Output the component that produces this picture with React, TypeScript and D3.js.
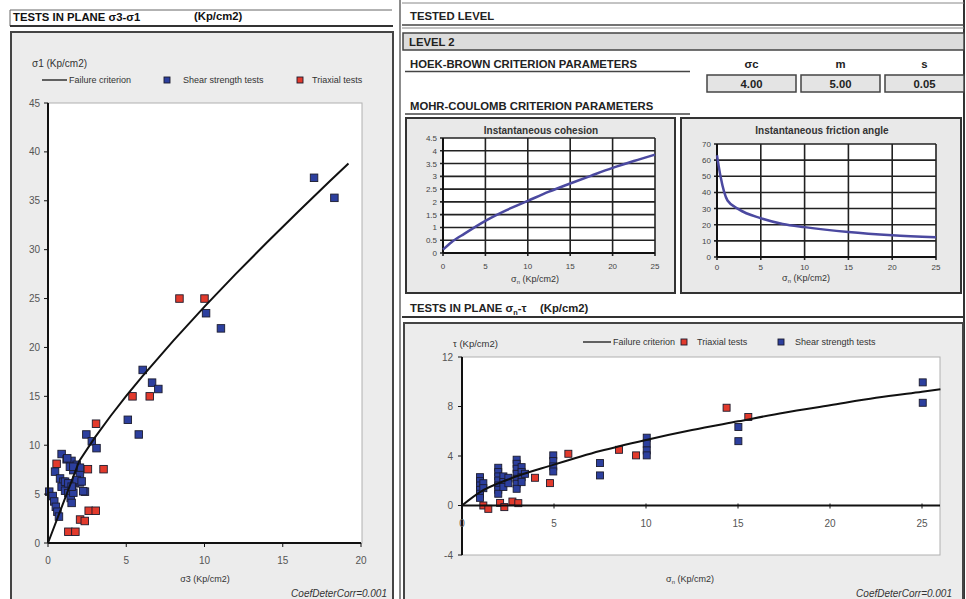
import React from 'react';
import * as d3 from 'd3';

const FONT = '"Liberation Sans", Arial, Helvetica, sans-serif';
const BLUE = '#2c3f9e';
const RED = '#e23a2c';
const CURVE = '#4b49a0';

// ---- Left chart (plane sigma3-sigma1) ----
const leftXTicks = [0, 5, 10, 15, 20];
const leftYTicks = [0, 5, 10, 15, 20, 25, 30, 35, 40, 45];
const failureSigma3 = [0, 2, 3, 4, 5, 6, 8, 10, 12, 14, 16, 18, 19.2];
const failureSigma1 = [0, 8.39, 10.8, 12.99, 15.04, 16.99, 20.68, 24.17, 27.52, 30.76, 33.91, 36.99, 38.82];
const shearTestsS3S1: [number, number][] = [
  [0.08, 5.25], [0.3, 4.8], [0.4, 4.25], [0.5, 3.7], [0.6, 3.2], [0.7, 2.7], [0.45, 7.3],
  [0.87, 9.1], [1.19, 8.56], [1.5, 8.4], [1.83, 8.0], [2.04, 7.7], [1.4, 7.8], [1.62, 7.45],
  [2.04, 6.95], [0.77, 6.6], [0.98, 6.27], [1.3, 5.93], [1.51, 5.6], [0.87, 5.76], [1.09, 5.35],
  [1.3, 5.1], [1.45, 4.6], [1.51, 4.1], [1.72, 6.1], [2.04, 6.2], [2.36, 5.25], [1.62, 5.15],
  [1.23, 8.66], [1.62, 7.8], [1.83, 6.44], [2.15, 6.3], [1.09, 6.27], [2.25, 5.3], [1.3, 6.1],
  [1.51, 5.76], [2.45, 11.1], [2.8, 10.4], [3.1, 9.7], [5.1, 12.6], [5.8, 11.1], [6.05, 17.7],
  [6.65, 16.4], [7.05, 15.75], [10.1, 23.5], [11.05, 21.95], [17.0, 37.35], [18.3, 35.3],
];
const triaxialTestsS3S1: [number, number][] = [
  [0.55, 8.1], [2.55, 7.55], [3.55, 7.55], [2.6, 3.3], [3.05, 3.3], [2.05, 2.4], [2.35, 2.25],
  [1.3, 1.15], [1.75, 1.15], [3.07, 12.2], [5.4, 15], [6.5, 15], [8.4, 25], [10, 25],
];

// ---- Hoek-Brown parameters ----
const hbHeaders = ['σc', 'm', 's'];
const hbValues = ['4.00', '5.00', '0.05'];

// ---- Instantaneous cohesion ----
const cohXTicks = [0, 5, 10, 15, 20, 25];
const cohYTicks = [0, 0.5, 1, 1.5, 2, 2.5, 3, 3.5, 4, 4.5];
const cohSigmaN = [0, 1, 2.5, 5, 7.5, 10, 12.5, 15, 17.5, 20, 22.5, 25];
const cohValues = [0.13, 0.42, 0.75, 1.26, 1.68, 2.04, 2.4, 2.72, 3.03, 3.33, 3.6, 3.85];

// ---- Instantaneous friction angle ----
const friXTicks = [0, 5, 10, 15, 20, 25];
const friYTicks = [0, 10, 20, 30, 40, 50, 60, 70];
const friSigmaN = [0, 0.4, 1.2, 2.5, 5, 7.5, 10, 15, 20, 25];
const friValues = [63, 50, 35, 29.5, 24, 20.5, 18.5, 15.5, 13.5, 12.2];

// ---- Plane sigma_n - tau ----
const tauXTicks = [0, 5, 10, 15, 20, 25];
const tauYTicks = [-4, 0, 4, 8, 12];
const failureSigmaN = [0, 1, 2.5, 5, 7.5, 10, 12.5, 15, 17.5, 20, 22.5, 25, 26];
const failureTau = [0, 1.1, 2.1, 3.3, 4.4, 5.3, 6.1, 6.8, 7.5, 8.1, 8.7, 9.2, 9.4];
const shearTestsTau: [number, number][] = [
  [0.98, 2.29], [0.98, 1.97], [0.98, 1.62], [0.98, 1.27], [0.98, 0.95], [0.98, 0.62], [1.16, 1.8], [1.16, 1.4],
  [1.97, 3.05], [1.97, 2.7], [1.97, 2.35], [1.97, 2.02], [1.97, 1.62], [1.97, 1.27], [1.97, 0.95],
  [2.25, 2.35], [2.25, 1.9], [2.25, 1.5], [2.52, 2.24], [2.52, 1.8],
  [2.97, 3.7], [2.97, 3.37], [2.97, 2.97], [2.97, 2.56], [2.97, 2.16], [2.97, 1.76], [2.97, 1.35],
  [3.24, 3.1], [3.24, 2.7], [3.24, 2.29], [3.24, 1.89], [3.42, 2.56],
  [4.96, 4.05], [4.96, 3.6], [4.96, 3.16], [4.96, 2.75], [7.5, 3.43], [7.5, 2.43],
  [10.04, 5.48], [10.04, 5.0], [10.04, 4.45], [10.04, 4.05], [15.02, 6.34], [15.02, 5.2],
  [25.04, 9.95], [25.04, 8.3],
];
const triaxialTestsTau: [number, number][] = [
  [1.16, 0], [1.43, -0.27], [2.07, 0.21], [2.3, -0.13], [2.74, 0.32], [3.06, 0.19], [3.97, 2.24],
  [4.78, 1.81], [5.78, 4.18], [8.53, 4.5], [9.46, 4.05], [14.38, 7.9], [15.56, 7.15],
];

const Sq = ({ x, y, fill, s = 7.5 }: { x: number; y: number; fill: string; s?: number }) => (
  <rect x={x - s / 2} y={y - s / 2} width={s} height={s} fill={fill} stroke="#1c1c2e" strokeWidth={0.9} />
);

const Sub = ({ main, sub, size, after = ' ' }: { main: string; sub: string; size: number; after?: string }) => (
  <>
    <tspan>{main}</tspan>
    <tspan fontSize={size * 0.65} dy={size * 0.25}>{sub}</tspan>
    <tspan dy={-size * 0.25}>{after}</tspan>
  </>
);

export default function App() {
  const x1 = d3.scaleLinear().domain([0, 20]).range([48, 361]);
  const y1 = d3.scaleLinear().domain([0, 45]).range([543, 103]);
  const line1 = d3.line<number>().x((_, i) => x1(failureSigma3[i])).y((d) => y1(d));

  const xc = d3.scaleLinear().domain([0, 25]).range([443, 655]);
  const yc = d3.scaleLinear().domain([0, 4.5]).range([253, 138]);
  const lineC = d3.line<number>().x((_, i) => xc(cohSigmaN[i])).y((d) => yc(d)).curve(d3.curveMonotoneX);

  const xf = d3.scaleLinear().domain([0, 25]).range([717, 936]);
  const yf = d3.scaleLinear().domain([0, 70]).range([257, 144]);
  const lineF = d3.line<number>().x((_, i) => xf(friSigmaN[i])).y((d) => yf(d)).curve(d3.curveMonotoneX);

  const x2 = d3.scaleLinear().domain([0, 25]).range([462, 922]);
  const y2 = d3.scaleLinear().domain([-4, 12]).range([555, 357]);
  const line2 = d3.line<number>().x((_, i) => x2(failureSigmaN[i])).y((d) => y2(d)).curve(d3.curveMonotoneX);

  const hbBoxes = [
    [707, 796],
    [801, 880],
    [885, 964],
  ];
  const HF = 11.3;

  return (
    <svg width={966} height={599} style={{ position: 'absolute', left: 0, top: 0, background: '#fff' }} fontFamily={FONT}>
      <rect x={0} y={0} width={966} height={599} fill="#fff" />

      {/* LEFT PANEL */}
      <line x1={10} y1={10} x2={392} y2={10} stroke="#666" strokeWidth={1} />
      <line x1={10} y1={10} x2={10} y2={26} stroke="#666" strokeWidth={1} />
      <text x={13} y={21} fontSize={HF} fontWeight="bold" fill="#111">TESTS IN PLANE σ3-σ1</text>
      <text x={194} y={20} fontSize={HF} fontWeight="bold" fill="#111">(Kp/cm2)</text>
      <line x1={10} y1={26} x2={393} y2={26} stroke="#333" strokeWidth={2} />

      <rect x={11} y={32} width={382} height={580} fill="#ececec" stroke="#444" strokeWidth={2} />
      <text x={32} y={67} fontSize={10} fill="#333">σ1  (Kp/cm2)</text>
      <line x1={42} y1={80} x2={67} y2={80} stroke="#333" strokeWidth={1.5} />
      <text x={69} y={83} fontSize={9} fill="#333">Failure criterion</text>
      <Sq x={167} y={80} fill={BLUE} s={6} />
      <text x={183} y={83} fontSize={9} fill="#333">Shear strength tests</text>
      <Sq x={300} y={80} fill={RED} s={6} />
      <text x={312} y={83} fontSize={9} fill="#333">Triaxial tests</text>

      <rect x={x1(0)} y={y1(45)} width={x1(20) - x1(0) + 1} height={y1(0) - y1(45)} fill="#fff" stroke="#b0b0b0" strokeWidth={1} />
      {shearTestsS3S1.map(([a, b], i) => (
        <Sq key={'ls' + i} x={x1(a)} y={y1(b)} fill={BLUE} />
      ))}
      {triaxialTestsS3S1.map(([a, b], i) => (
        <Sq key={'lt' + i} x={x1(a)} y={y1(b)} fill={RED} />
      ))}
      <path d={line1(failureSigma1) || ''} fill="none" stroke="#111" strokeWidth={2} />
      <line x1={x1(0)} y1={y1(45)} x2={x1(0)} y2={y1(0)} stroke="#111" strokeWidth={2} />
      <line x1={x1(0)} y1={y1(0)} x2={x1(20)} y2={y1(0)} stroke="#111" strokeWidth={2} />
      {leftYTicks.map((t) => (
        <g key={'ly' + t}>
          <line x1={x1(0) - 4} x2={x1(0)} y1={y1(t)} y2={y1(t)} stroke="#111" strokeWidth={1} />
          <text x={x1(0) - 8} y={y1(t) + 3.5} fontSize={10} fill="#555" textAnchor="end">{t}</text>
        </g>
      ))}
      {leftXTicks.map((t) => (
        <g key={'lx' + t}>
          <line x1={x1(t)} x2={x1(t)} y1={y1(0)} y2={y1(0) + 4} stroke="#111" strokeWidth={1} />
          <text x={x1(t)} y={564} fontSize={10} fill="#555" textAnchor="middle">{t}</text>
        </g>
      ))}
      <text x={205} y={582} fontSize={9} fill="#333" textAnchor="middle">σ3  (Kp/cm2)</text>
      <text x={387} y={597} fontSize={10} fill="#333" fontStyle="italic" textAnchor="end">CoefDeterCorr=0.001</text>

      {/* RIGHT HEADER */}
      <line x1={400} y1={0} x2={400} y2={599} stroke="#666" strokeWidth={1.5} />
      <line x1={964} y1={0} x2={964} y2={599} stroke="#333" strokeWidth={2} />
      <line x1={402} y1={3} x2={964} y2={3} stroke="#888" strokeWidth={1} />
      <text x={410} y={20} fontSize={HF} fontWeight="bold" fill="#222">TESTED LEVEL</text>
      <line x1={402} y1={25} x2={964} y2={25} stroke="#444" strokeWidth={1.5} />
      <line x1={402} y1={28} x2={964} y2={28} stroke="#888" strokeWidth={1} />
      <rect x={403} y={33} width={561} height={17} fill="#dcdcdc" stroke="#444" strokeWidth={1.5} />
      <text x={409} y={46} fontSize={HF} fontWeight="bold" fill="#222">LEVEL 2</text>
      <text x={410} y={68} fontSize={HF} fontWeight="bold" fill="#222">HOEK-BROWN CRITERION PARAMETERS</text>
      <line x1={405} y1={71.5} x2={690} y2={71.5} stroke="#444" strokeWidth={1.5} />
      {hbHeaders.map((h, i) => (
        <text key={'hh' + i} x={(hbBoxes[i][0] + hbBoxes[i][1]) / 2} y={68} fontSize={HF} fontWeight="bold" fill="#222" textAnchor="middle">{h}</text>
      ))}
      {hbValues.map((v, i) => (
        <g key={'hv' + i}>
          <rect x={hbBoxes[i][0]} y={75} width={hbBoxes[i][1] - hbBoxes[i][0]} height={17} fill="#e4e4e4" stroke="#444" strokeWidth={1.5} />
          <text x={(hbBoxes[i][0] + hbBoxes[i][1]) / 2} y={88} fontSize={HF} fontWeight="bold" fill="#222" textAnchor="middle">{v}</text>
        </g>
      ))}
      <text x={410} y={110} fontSize={HF} fontWeight="bold" fill="#222">MOHR-COULOMB CRITERION PARAMETERS</text>
      <line x1={405} y1={114} x2={690} y2={114} stroke="#444" strokeWidth={1.5} />

      {/* COHESION */}
      <rect x={406} y={118} width={269} height={175} fill="#e9e9e9" stroke="#333" strokeWidth={2} />
      <text x={541} y={134} fontSize={10} fontWeight="bold" fill="#333" textAnchor="middle">Instantaneous cohesion</text>
      <rect x={xc(0)} y={yc(4.5)} width={xc(25) - xc(0)} height={yc(0) - yc(4.5)} fill="#fff" />
      {cohYTicks.map((t) => (
        <g key={'cy' + t}>
          <line x1={xc(0) - 3} x2={xc(25)} y1={yc(t)} y2={yc(t)} stroke="#222" strokeWidth={1.6} />
          <text x={xc(0) - 6} y={yc(t) + 3} fontSize={8} fill="#444" textAnchor="end">{t}</text>
        </g>
      ))}
      {cohXTicks.map((t) => (
        <g key={'cx' + t}>
          <line x1={xc(t)} x2={xc(t)} y1={yc(4.5)} y2={yc(0) + 3} stroke="#222" strokeWidth={1.6} />
          <text x={xc(t)} y={269} fontSize={8} fill="#444" textAnchor="middle">{t}</text>
        </g>
      ))}
      <line x1={xc(0)} x2={xc(25)} y1={yc(0)} y2={yc(0)} stroke="#111" strokeWidth={2} />
      <line x1={xc(0)} x2={xc(0)} y1={yc(4.5)} y2={yc(0)} stroke="#111" strokeWidth={2} />
      <path d={lineC(cohValues) || ''} fill="none" stroke={CURVE} strokeWidth={2.5} />
      <text x={535} y={282} fontSize={9} fill="#333" textAnchor="middle">
        <Sub main="σ" sub="n" size={9} after="  " />(Kp/cm2)
      </text>

      {/* FRICTION */}
      <rect x={681} y={118} width={280} height={175} fill="#e9e9e9" stroke="#333" strokeWidth={2} />
      <text x={822} y={134} fontSize={10} fontWeight="bold" fill="#333" textAnchor="middle">Instantaneous friction angle</text>
      <rect x={xf(0)} y={yf(70)} width={xf(25) - xf(0)} height={yf(0) - yf(70)} fill="#fff" />
      {friYTicks.map((t) => (
        <g key={'fy' + t}>
          <line x1={xf(0) - 3} x2={xf(25)} y1={yf(t)} y2={yf(t)} stroke="#222" strokeWidth={1.6} />
          <text x={xf(0) - 6} y={yf(t) + 3} fontSize={8} fill="#444" textAnchor="end">{t}</text>
        </g>
      ))}
      {friXTicks.map((t) => (
        <g key={'fx' + t}>
          <line x1={xf(t)} x2={xf(t)} y1={yf(70)} y2={yf(0) + 3} stroke="#222" strokeWidth={1.6} />
          <text x={xf(t)} y={270} fontSize={8} fill="#444" textAnchor="middle">{t}</text>
        </g>
      ))}
      <line x1={xf(0)} x2={xf(25)} y1={yf(0)} y2={yf(0)} stroke="#111" strokeWidth={2} />
      <line x1={xf(0)} x2={xf(0)} y1={yf(70)} y2={yf(0)} stroke="#111" strokeWidth={2} />
      <path d={lineF(friValues) || ''} fill="none" stroke={CURVE} strokeWidth={2.5} />
      <text x={806} y={281} fontSize={9} fill="#333" textAnchor="middle">
        <Sub main="σ" sub="n" size={9} after="  " />(Kp/cm2)
      </text>

      {/* TAU PLANE */}
      <text x={410} y={312} fontSize={HF} fontWeight="bold" fill="#222">
        TESTS IN PLANE <Sub main="σ" sub="n" size={HF} after="-τ" />
      </text>
      <text x={540} y={312} fontSize={HF} fontWeight="bold" fill="#222">(Kp/cm2)</text>
      <line x1={402} y1={317} x2={964} y2={317} stroke="#333" strokeWidth={2} />
      <rect x={404} y={323} width={559} height={290} fill="#ececec" stroke="#444" strokeWidth={2} />
      <text x={453} y={347} fontSize={9.5} fill="#333">τ  (Kp/cm2)</text>
      <line x1={583} y1={342} x2={611} y2={342} stroke="#333" strokeWidth={1.5} />
      <text x={613} y={345} fontSize={9} fill="#333">Failure criterion</text>
      <Sq x={684} y={342} fill={RED} s={6} />
      <text x={697} y={345} fontSize={9} fill="#333">Triaxial tests</text>
      <Sq x={781} y={342} fill={BLUE} s={6} />
      <text x={795} y={345} fontSize={9} fill="#333">Shear strength tests</text>

      <rect x={x2(0)} y={y2(12)} width={940 - x2(0)} height={y2(-4) - y2(12)} fill="#fff" stroke="#b0b0b0" strokeWidth={1} />
      {shearTestsTau.map(([a, b], i) => (
        <Sq key={'rs' + i} x={x2(a)} y={y2(b)} fill={BLUE} s={7} />
      ))}
      {triaxialTestsTau.map(([a, b], i) => (
        <Sq key={'rt' + i} x={x2(a)} y={y2(b)} fill={RED} s={7} />
      ))}
      <path d={line2(failureTau) || ''} fill="none" stroke="#111" strokeWidth={2} />
      <line x1={x2(0)} y1={y2(12)} x2={x2(0)} y2={y2(-4)} stroke="#111" strokeWidth={2} />
      <line x1={x2(0)} y1={y2(0)} x2={940} y2={y2(0)} stroke="#111" strokeWidth={2} />
      {tauYTicks.map((t) => (
        <g key={'ty' + t}>
          <line x1={x2(0) - 4} x2={x2(0)} y1={y2(t)} y2={y2(t)} stroke="#111" strokeWidth={1} />
          <text x={x2(0) - 9} y={y2(t) + 3.5} fontSize={10} fill="#555" textAnchor="end">{t}</text>
        </g>
      ))}
      {tauXTicks.map((t) => (
        <g key={'tx' + t}>
          <line x1={x2(t)} x2={x2(t)} y1={y2(0) - 2} y2={y2(0) + 3} stroke="#111" strokeWidth={1} />
          <text x={x2(t)} y={527} fontSize={10} fill="#555" textAnchor="middle">{t}</text>
        </g>
      ))}
      <text x={690} y={582} fontSize={9} fill="#333" textAnchor="middle">
        <Sub main="σ" sub="n" size={9} after="  " />(Kp/cm2)
      </text>
      <text x={952} y={597} fontSize={10} fill="#333" fontStyle="italic" textAnchor="end">CoefDeterCorr=0.001</text>
    </svg>
  );
}
